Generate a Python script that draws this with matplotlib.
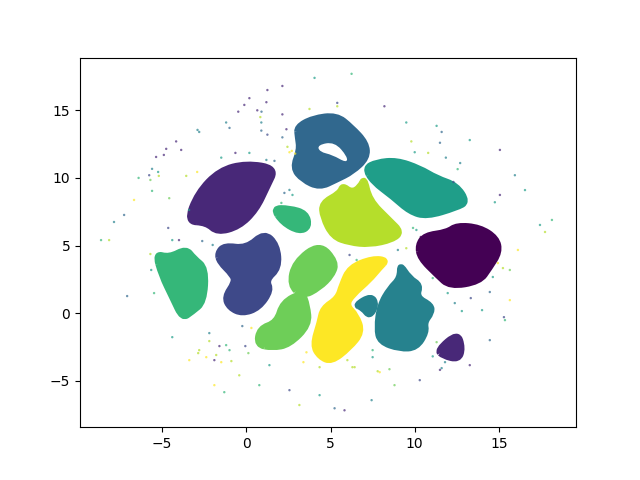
import matplotlib
matplotlib.use("Agg")
import matplotlib.pyplot as plt
from matplotlib.patches import PathPatch
from matplotlib.path import Path

# Cluster outlines
c0_x = [10.18,10.6,11.9,12.5,13.87,14.88,15.06,14.46,13.87,12.08,11.31,10.3]
c0_y = [5.04,5.78,6.0,6.52,6.37,5.56,4.52,3.33,2.3,1.93,2.81,4.07]
c1a_x = [-3.57,-2.92,-1.61,0,1.79,1.25,.6,-.42,-1.73,-2.38]
c1a_y = [6.74,8.89,10.59,11.11,10.74,9.33,7.63,6.37,5.93,6.67]
c1b_x = [11.31,12.56,12.86,12.62,11.67]
c1b_y = [-2.74,-1.41,-2.59,-3.48,-3.19]
c2_x = [-1.73,-1.31,0,1.07,1.85,1.96,1.19,1.49,.77,-.24,-1.01,-1.31,-.71,-.83,-1.61]
c2_y = [4.44,5.04,4.81,6.0,5.04,3.33,2.44,1.7,.37,-.07,.37,1.19,2.3,2.81,3.78]
c3_x = [2.98,3.93,5.36,6.25,7.14,7.2,6.31,5.36,4.35,3.33,2.74,3.15,3.04]
c3_y = [13.78,14.44,14.67,13.78,12.59,11.48,10.44,9.85,9.26,9.85,10.74,12.07,13.04]
c3_hole_x = [4.23,5.24,6.01,5.95,5.12,4.35]
c3_hole_y = [12.44,12.67,11.56,11.11,11.7,11.93]
c4a_x = [9.11,9.7,10.36,10.12,11.01,11.01,10.6,10.71,10.12,9.11,7.92,7.74,7.92,8.51,9.11]
c4a_y = [3.7,2.59,2.07,1.19,.59,0,-.67,-1.41,-2.59,-2.67,-2.15,-1.11,.59,1.85,2.59]
c4b_x = [6.43,7.44,7.74,7.32,6.9]
c4b_y = [.59,1.33,.59,-.3,.37]
c5_x = [7.02,7.74,8.93,10.3,11.31,12.5,13.15,12.5,10.71,9.7,8.69,7.5]
c5_y = [10.74,11.19,11.33,10.74,10.0,9.48,8.22,7.78,7.11,7.48,8.59,9.7]
c6a_x = [-5.42,-4.58,-3.57,-3.1,-2.38,-2.5,-3.21,-3.81,-4.4,-5.06]
c6a_y = [4.44,4.15,4.81,4.07,3.33,.81,.07,-.44,1.11,2.81]
c6b_x = [1.55,2.56,3.57,3.75,3.15,2.14]
c6b_y = [7.78,7.78,7.41,6.37,6.0,6.67]
c7a_x = [2.56,2.86,4.35,5.36,5.12,4.35,3.33]
c7a_y = [2.07,3.78,5.19,3.78,2.81,1.85,1.19]
c7b_x = [.6,.77,1.79,2.14,3.33,3.63,3.75,2.56,1.55]
c7b_y = [-2.37,-1.11,-.67,.81,1.56,.59,-.89,-2.37,-2.59]
c8_x = [7.02,7.32,8.51,9.23,8.69,7.32,6.13,5.12,4.52,4.46,5.54,5.71,6.25,6.73]
c8_y = [10.07,8.37,6.89,6.0,5.41,5.04,5.19,5.63,7.11,8.15,8.89,9.48,8.96,9.33]
c9_x = [8.39,7.5,6.13,5.65,5.42,4.52,4.35,3.93,4.35,5.06,6.13,6.9,6.55,5.95,6.31,7.32,7.92]
c9_y = [3.93,4.07,3.41,2.07,1.11,.37,-.67,-2.37,-3.26,-3.63,-2.59,-1.41,-.15,.59,1.33,2.44,3.33]

clusters = [
    (0,c0_x,c0_y),(1,c1a_x,c1a_y),(1,c1b_x,c1b_y),(2,c2_x,c2_y),(3,c3_x,c3_y),
    (4,c4a_x,c4a_y),(4,c4b_x,c4b_y),(5,c5_x,c5_y),(6,c6a_x,c6a_y),(6,c6b_x,c6b_y),
    (7,c7a_x,c7a_y),(7,c7b_x,c7b_y),(8,c8_x,c8_y),(9,c9_x,c9_y),
]

# Stray points
stray_x = [2.56,2.7,2.9,3.75,5.4,5.4,8.2,9.5,11.3,11.6,11.5,9.8,10,10.8,11.85,12.7,12.55,12.3,14.76,15.06,
           6.25,4.05,2.14,1.25,.18,.9,-1,-2.9,-3.87,-4.9,-5.2,-6.4,-8.15,-8.63,-7.86,-7.26,-7.08,-6.67,-5.77,-.65,
           17.44,18.15,17.74,16.13,15.65,16.55,15.95,15.06,13.27,15.65,15.36,14.46,13.27,
           -2.8,-1.9,-1,-3.39,-.42,.77,2.56,4.35,5.83,5.24,3.15,7.44,8.8,7.92,10.3,6.43,-1.31,11.5,1.37,-1.9]
stray_y = [11.9,12.0,11.8,15.1,15.3,15.55,15.3,14.1,13.85,13.4,12.6,12.7,11.9,11.85,11.5,11.1,10.65,9.7,8.2,8.74,
           17.7,17.4,16.8,16.5,15.9,14.9,13.7,13.55,12.07,11.7,10.15,10,5.4,5.4,6.74,7.26,1.26,8.37,10.2,11.85,
           6.52,6.89,6.0,4.67,3.19,9.1,10.2,12.07,12.8,.96,-.52,-2,-3.85,
           -2.74,-3.48,-2.74,-3.48,-4.6,-5.33,-5.7,-6.07,-7.19,-7.04,-6.8,-6.44,-5.33,-4.37,-4.96,-4,-5.85,-4.2,-3.85,-5.33]
stray_c = [9,9,9,8,8,2,1,5,5,3,3,8,5,8,4,4,6,2,5,1,
           6,5,1,1,1,3,3,4,1,1,8,6,8,6,4,3,3,9,2,1,
           5,6,8,9,7,5,4,1,5,9,6,3,1,
           8,1,6,9,8,6,2,5,1,3,8,4,7,9,2,8,6,1,5,9]

near_x = [-.12,1.19,-.48,.65,.83,.89,-1.2,.89,1.25,2.14,2.38,2.14,-2.8,-4.17,-4.76,-5.36,-5.6,-5.24,-5.7,-5.6,
          -3.57,-2.92,-1.49,.18,1.19,1.67,2.44,2.56,2.74,2.26,2.08,-4.58,-4.64,-3.4,
          -4.4,-4,-2.62,-2,-5.7,-5.65,-5.48,-2.2,-4.4,-2.2,-1.6,-1.2,-.06,-.24,.3,-2.86,-2.38,-1.79,-.89,.12,-1.49,
          12.38,12.8,14,15.3,13.33,14.46,14.64,15.24,14.94,11.96,11.07,7.8,8.5,6.3,6.0,4.35,3.39,3.57,7.5,7.5,
          11.3,11.07,11.8,11.6,10.1,9.9,10.36,9.5,9,6.13,6.55]
near_y = [15.4,15.6,14.9,15,14.5,14.1,14.1,13.5,13.2,14.7,13.6,13,13.4,12.7,12.15,11.55,10.67,10.44,9.85,9.04,
          10.15,10.44,11.5,11.85,11.33,11.26,12.3,9.11,8.74,8.89,8.15,8.5,6.3,7.63,
          5.4,5.4,5.33,5.04,4.37,3.19,1.48,-1.48,-1.78,-2.07,-2.44,-2.37,-2.44,-.96,-1.1,-2.96,-3.26,-3.1,-3.55,-2.96,-3.63,
          .74,.15,.22,-.3,1.11,1.56,2.67,3.33,3.7,1.48,2.59,-4.3,-4.15,-4,-3.48,-4,-3.63,-2.9,-2.74,-3.26,
          -2.15,-3.2,-3.63,-4.07,6.15,6.3,5.63,4.8,4.67,4.3,3.93]
near_c = [1,1,1,1,8,4,4,3,2,1,1,3,4,1,1,1,4,5,7,6,
          8,9,5,5,4,3,8,4,5,3,6,7,2,5,
          5,1,3,4,8,5,6,4,5,8,1,6,2,3,9,8,9,8,8,7,9,
          4,5,5,2,2,3,5,8,9,5,6,8,7,8,8,8,9,9,6,5,
          7,5,4,4,5,6,0,8,4,2,6]


def smooth_closed(xs, ys):
    """Closed quadratic outline through the midpoints of the read vertices."""
    n = len(xs)
    mid = [((xs[i] + xs[(i + 1) % n]) / 2, (ys[i] + ys[(i + 1) % n]) / 2) for i in range(n)]
    verts, codes = [mid[-1]], [Path.MOVETO]
    for i in range(n):
        verts += [(xs[i], ys[i]), mid[i]]
        codes += [Path.CURVE3, Path.CURVE3]
    return Path(verts, codes)


fig, ax = plt.subplots(figsize=(6.4, 4.8), dpi=100)
cmap = plt.get_cmap("viridis")
for value, xs, ys in clusters:
    color = cmap(value / 9)
    ax.add_patch(PathPatch(smooth_closed(xs, ys), facecolor=color, edgecolor=color, linewidth=4, joinstyle="round"))
ax.add_patch(PathPatch(smooth_closed(c3_hole_x, c3_hole_y), facecolor="white", edgecolor="none"))
ax.scatter(stray_x + near_x, stray_y + near_y, c=stray_c + near_c, cmap="viridis", vmin=0, vmax=9,
           s=3, alpha=0.7, linewidths=0)
ax.set_xlim(-9.88, 19.58)
ax.set_ylim(-8.44, 18.9)
ax.set_xticks([-5, 0, 5, 10, 15])
ax.set_yticks([-5, 0, 5, 10, 15])
fig.savefig("out.png", dpi=100)
